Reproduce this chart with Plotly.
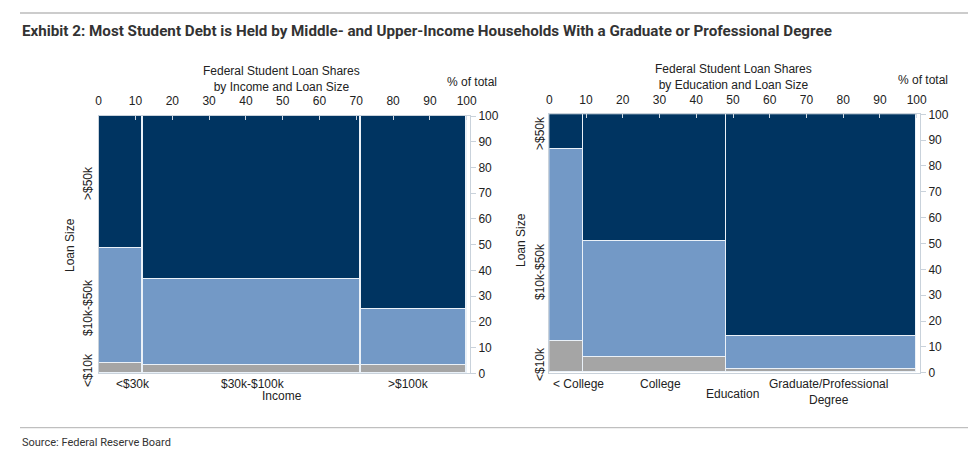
import plotly.graph_objects as go

# ---------------- data ----------------
income_cats = ["<$30k", "$30k-$100k", ">$100k"]
income_share = [12.0, 59.2, 28.8]          # % of total loans (bar widths)
income_lt10k = [3.9, 3.2, 3.2]             # <$10k
income_10_50k = [44.7, 33.3, 21.7]         # $10k-$50k
income_gt50k = [51.4, 63.5, 75.1]          # >$50k

edu_cats = ["< College", "College", "Graduate/Professional<br>Degree"]
edu_share = [9.25, 39.05, 51.7]
edu_lt10k = [12.0, 5.8, 1.2]
edu_10_50k = [74.3, 45.2, 12.7]
edu_gt50k = [13.7, 49.0, 86.1]

size_labels = ["<$10k", "$10k-$50k", ">$50k"]
ticks = list(range(0, 101, 10))

# ---------------- style ----------------
OFF = 8                      # page body margin in the browser
W, H = 976 - OFF, 454 - OFF
DARK = "#003461"
LIGHT = "#7399c6"
GREY = "#a5a5a5"
EDGE = "#eaf1f8"
TXT = "#222222"
FONT = "Liberation Sans, Arial, sans-serif"
NARROW = "Roboto, sans-serif"


def px(x):
    return (x - OFF) / W


def py(y):
    return 1 - (y - OFF) / H


def mids(shares):
    out, c = [], 0.0
    for s in shares:
        out.append(c + s / 2)
        c += s
    return out


fig = go.Figure()

panels = [
    (income_share, [income_lt10k, income_10_50k, income_gt50k], "x", "y"),
    (edu_share, [edu_lt10k, edu_10_50k, edu_gt50k], "x2", "y2"),
]
colors = [GREY, LIGHT, DARK]
for shares, stacks, xa, ya in panels:
    xm = mids(shares)
    for vals, col, name in zip(stacks, colors, size_labels):
        fig.add_trace(go.Bar(
            x=xm, y=vals, width=shares, xaxis=xa, yaxis=ya, name=name,
            marker=dict(color=col, line=dict(color=EDGE, width=1.5)),
            showlegend=False,
        ))

axis_common = dict(
    range=[0, 100.9], tickvals=ticks, showgrid=False, zeroline=False,
    showline=True, linecolor="#c9d2db", linewidth=1, mirror=True,
    tickfont=dict(family=FONT, size=12, color=TXT),
    ticks="inside", ticklen=4, tickcolor="#cfd8e2", automargin=False,
    ticklabelstandoff=5,
)
yaxis_common = dict(
    range=[0, 100], tickvals=ticks, showgrid=False, zeroline=False,
    showline=True, linecolor="#c9d2db", linewidth=1, mirror=True,
    tickfont=dict(family=FONT, size=12, color=TXT),
    ticks="outside", ticklen=5, tickcolor="#c9d2db", side="right", automargin=False,
)

fig.update_layout(
    width=W, height=H, margin=dict(l=0, r=0, t=0, b=0, pad=0, autoexpand=False),
    paper_bgcolor="white", plot_bgcolor="white",
    barmode="stack", bargap=0,
    xaxis=dict(axis_common, domain=[px(98.7), px(470)], side="top", anchor="y"),
    yaxis=dict(yaxis_common, domain=[py(373.3), py(116)], anchor="x"),
    xaxis2=dict(axis_common, domain=[px(549.3), px(920)], side="top", anchor="y2"),
    yaxis2=dict(yaxis_common, domain=[py(372.7), py(114.3)], anchor="x2"),
)

ann = []


def label(x, y, text, size=12, angle=0, family=FONT, color=TXT, xanchor="center", bold=False):
    if bold:
        text = "<b>" + text + "</b>"
    ann.append(dict(x=px(x), y=py(y), xref="paper", yref="paper", text=text,
                    showarrow=False, textangle=angle, xanchor=xanchor, yanchor="middle",
                    font=dict(family=family, size=size, color=color)))


# Main title and source
label(20, 31, "Exhibit 2: Most Student Debt is Held by Middle- and Upper-Income Households With a Graduate or Professional Degree",
      size=15.2, family=NARROW, color="#333333", xanchor="left", bold=True)
label(20, 442, "Source: Federal Reserve Board", size=11, family=NARROW, color="#333333", xanchor="left")

# Panel titles
label(281.7, 78.5, "Federal Student Loan Shares<br>by Income and Loan Size")
label(733.3, 77, "Federal Student Loan Shares<br>by Education and Loan Size")
label(471.7, 81.7, "% of total")
label(923, 80, "% of total")

# Bottom category labels (at bar midpoints)
for xa, ya, shares, cats, shifts in [
    ("x", "y", income_share, income_cats, [12, 1, -5]),
    ("x2", "y2", edu_share, edu_cats, [12, 5, 7]),
]:
    for m, c, s in zip(mids(shares), cats, shifts):
        ann.append(dict(x=m, y=0, xref=xa, yref=ya + " domain", text=c, showarrow=False,
                        xanchor="center", yanchor="top", xshift=s, yshift=-2,
                        font=dict(family=FONT, size=12, color=TXT)))

label(281.7, 396, "Income")
label(732, 393.5, "Education")

# Loan-size labels (left side, rotated)
label(70, 245, "Loan Size", angle=-90)
label(88, 370, size_labels[0], angle=-90)
label(88, 308, size_labels[1], angle=-90)
label(88, 183, size_labels[2], angle=-90)

label(521, 240, "Loan Size", angle=-90)
label(540, 364, size_labels[0], angle=-90)
label(540, 272, size_labels[1], angle=-90)
label(540, 133, size_labels[2], angle=-90)

fig.update_layout(annotations=ann)

# Rules
fig.add_shape(type="line", xref="paper", yref="paper", x0=px(20), x1=px(968), y0=py(13), y1=py(13),
              line=dict(color="#cccccc", width=2))
fig.add_shape(type="line", xref="paper", yref="paper", x0=px(20), x1=px(968), y0=py(427.7), y1=py(427.7),
              line=dict(color="#b0b0b0", width=1))

fig.write_html("out.html")
